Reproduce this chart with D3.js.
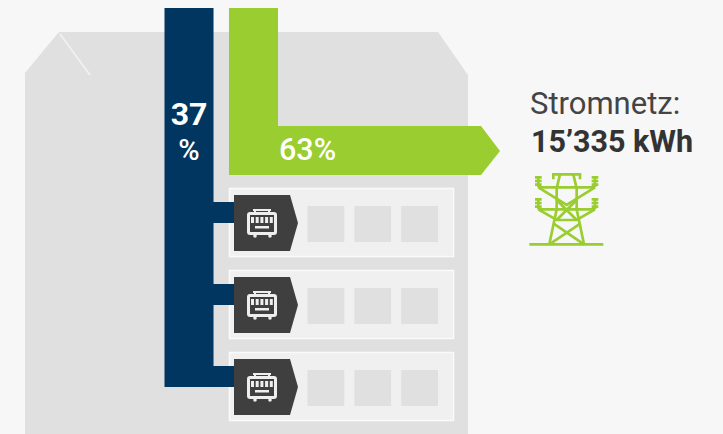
<!DOCTYPE html>
<html>
<head>
<meta charset="utf-8">
<script src="https://cdn.jsdelivr.net/npm/d3@7"></script>
<style>
  html, body {margin: 0; padding: 0; background: #f7f7f7;}
  svg {display: block;}
  text {font-family: Roboto, sans-serif;}
</style>
</head>
<body>
<svg width="723" height="434"></svg>
<script>
var flows = ["eigen", "netz"];
var shares = [37, 63];
var rows = ["a", "b", "c"];
var slots = [0, 1, 2];
var gridName = "Stromnetz:";
var gridKwh = 15335;

var blue = "#003660", green = "#9acd2f", dark = "#3f3f3f", grey = "#e0e0e0";

var svg = d3.select("svg");
var swissFormat = d3.formatLocale({decimal: ".", thousands: "’", grouping: [3], currency: ["", ""]}).format(",");

var stemX = d3.scaleBand().domain(flows).range([164.5, 278]).paddingInner(0.24);
var rowY = d3.scaleBand().domain(rows).range([188, 421]).paddingInner(0.1585);
var slotX = d3.scaleBand().domain(slots).range([307.5, 438]).paddingInner(0.215);

// house
svg.append("path")
  .attr("fill", grey)
  .attr("d", "M25,73 L58,33 L60,32 L438,32 L468,75 L468,434 L25,434 Z");
svg.append("line")
  .attr("x1", 60).attr("y1", 34).attr("x2", 90).attr("y2", 75)
  .attr("stroke", "#f0f0f0").attr("stroke-width", 2);

var blueX = stemX("eigen"), stemW = stemX.bandwidth();

var panel = svg.selectAll("g.row")
  .data(rows)
  .enter()
  .append("g")
    .attr("class", "row")
    .attr("transform", function(d) {return "translate(0," + rowY(d) + ")";});

panel.append("rect")
  .attr("x", 229.5).attr("y", 0.5)
  .attr("width", 224).attr("height", rowY.bandwidth() - 1)
  .attr("fill", "#f0f0f0")
  .attr("stroke", "#fafafa")
  .attr("stroke-width", 1.5);

panel.selectAll("rect.slot")
  .data(slots)
  .enter()
  .append("rect")
    .attr("class", "slot")
    .attr("x", function(d) {return slotX(d);})
    .attr("y", 18)
    .attr("width", slotX.bandwidth())
    .attr("height", 36)
    .attr("fill", grey);

svg.append("rect")
  .attr("x", blueX).attr("y", 8)
  .attr("width", stemW).attr("height", 379)
  .attr("fill", blue);

panel.append("rect")
  .attr("x", blueX + stemW - 1).attr("y", 14)
  .attr("width", 22).attr("height", 21)
  .attr("fill", blue);

panel.append("path")
  .attr("fill", dark)
  .attr("d", "M234,7 L290,7 L298,35 L290,63 L234,63 Z");

// device icon
var icon = panel.append("g");
icon.append("path")
  .attr("d", "M253,22 L271,22 M255,22 L255,24 M269,22 L269,24")
  .attr("stroke", "#eee").attr("stroke-width", 2).attr("fill", "none");
icon.append("rect")
  .attr("x", 247).attr("y", 24).attr("width", 30).attr("height", 23).attr("rx", 3)
  .attr("fill", "#eee");
icon.append("rect")
  .attr("x", 250).attr("y", 27).attr("width", 24).attr("height", 17)
  .attr("fill", dark);
icon.selectAll("rect.tooth")
  .data(d3.range(5))
  .enter()
  .append("rect")
    .attr("class", "tooth")
    .attr("x", function(i) {return 251 + i * 4.7;})
    .attr("y", 29).attr("width", 3).attr("height", 6)
    .attr("fill", "#eee");
icon.append("rect")
  .attr("x", 255).attr("y", 38).attr("width", 14).attr("height", 2.5)
  .attr("fill", "#eee");
icon.selectAll("circle.foot")
  .data([255, 270])
  .enter()
  .append("circle")
    .attr("class", "foot")
    .attr("cx", function(d) {return d;})
    .attr("cy", 48).attr("r", 1.8)
    .attr("fill", "#eee");

// green arrow
var greenX = stemX("netz");
svg.append("path")
  .attr("fill", green)
  .attr("d", "M" + greenX + ",8 L" + (greenX + stemW) + ",8 L" + (greenX + stemW) + ",126 L481,126 L500,151 L481,175 L" + greenX + ",175 Z");

// share labels
svg.append("text")
  .attr("x", blueX + stemW / 2).attr("y", 125)
  .attr("text-anchor", "middle")
  .attr("font-size", 32).attr("font-weight", 700)
  .attr("fill", "#fff")
  .text(shares[0]);
svg.append("text")
  .attr("x", blueX + stemW / 2).attr("y", 160)
  .attr("text-anchor", "middle")
  .attr("font-size", 29).attr("font-weight", 500)
  .attr("fill", "#fff")
  .text("%");
svg.append("text")
  .attr("x", 279).attr("y", 160)
  .attr("font-size", 30.5).attr("font-weight", 500)
  .attr("fill", "#fff")
  .text(shares[1] + "%");

// grid label
svg.append("text")
  .attr("x", 530).attr("y", 114)
  .attr("font-size", 31)
  .attr("fill", "#444")
  .text(gridName);
svg.append("text")
  .attr("x", 531).attr("y", 152)
  .attr("font-size", 30.5).attr("font-weight", 700)
  .attr("fill", "#333")
  .text(swissFormat(gridKwh) + " kWh");

// pylon, drawn on the 3x grid it was measured on
var pylon = svg.append("g")
  .attr("transform", "translate(510,80) scale(0.3333)")
  .attr("fill", "none")
  .attr("stroke", green)
  .attr("stroke-width", 8);
var pylonLines = [
  "M58,493 L280,493",
  "M130,298 L130,283 L210,283 L210,298",
  "M150,283 L140,325 L140,388 L118,493",
  "M190,283 L200,325 L200,388 L222,493",
  "M85,322 L255,322",
  "M85,322 L170,375 L255,322",
  "M85,388 L255,388",
  "M85,388 L140,420 L200,420 L255,388",
  "M140,360 L200,420 M200,360 L140,420",
  "M130,430 L222,493 M212,430 L118,493",
  "M85,295 L85,322 M255,295 L255,322",
  "M85,358 L85,388 M255,358 L255,388",
  "M75,292 L95,292 M75,303 L95,303 M75,314 L95,314",
  "M245,292 L265,292 M245,303 L265,303 M245,314 L265,314",
  "M75,358 L95,358 M75,369 L95,369 M75,380 L95,380",
  "M245,358 L265,358 M245,369 L265,369 M245,380 L265,380"
];
pylon.selectAll("path")
  .data(pylonLines)
  .enter()
  .append("path")
    .attr("d", function(d) {return d;});
</script>
</body>
</html>
